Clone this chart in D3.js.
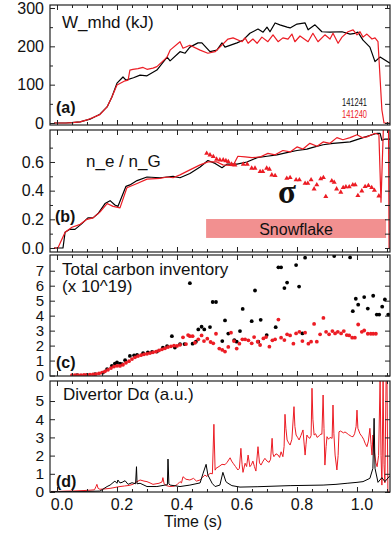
<!DOCTYPE html>
<html><head><meta charset="utf-8">
<script src="https://cdn.jsdelivr.net/npm/d3@7"></script>
<style>
body{margin:0;background:#fff}
svg{display:block}
text{font-family:"Liberation Sans",Arial,Helvetica,sans-serif;fill:#111}
</style>
</head><body>
<svg id="chart" width="391" height="533"></svg>
<script>
// ---- shot labels ----
const shots = ["141241", "141240"];

// ---- (a) stored energy W_mhd (kJ): [time s, value] ----
const wmhd141241 = [[-0.01,0],[0.03,0],[0.05,1],[0.077,3],[0.11,10],[0.143,23],[0.167,42],[0.183,68],[0.2,104],[0.22,120],[0.23,112],[0.255,118],[0.277,125],[0.3,123],[0.333,138],[0.367,172],[0.377,162],[0.41,186],[0.427,182],[0.443,198],[0.47,209],[0.483,209],[0.51,186],[0.533,190],[0.55,209],[0.56,198],[0.6,209],[0.62,216],[0.643,234],[0.67,245],[0.687,237],[0.7,250],[0.71,238],[0.727,261],[0.743,256],[0.767,250],[0.777,248],[0.8,258],[0.827,261],[0.837,243],[0.86,256],[0.883,238],[0.91,237],[0.95,238],[0.977,232],[0.993,234],[1.003,237],[1.02,216],[1.043,198],[1.06,160],[1.077,172],[1.11,156]];
const wmhd141240 = [[-0.01,0],[0.03,0],[0.05,1],[0.077,3],[0.1,8],[0.143,22],[0.167,42],[0.183,68],[0.2,99],[0.227,110],[0.237,112],[0.243,138],[0.253,140],[0.27,142],[0.287,145],[0.3,140],[0.32,143],[0.333,147],[0.367,172],[0.377,190],[0.41,212],[0.42,195],[0.443,203],[0.477,190],[0.503,182],[0.527,186],[0.543,198],[0.57,219],[0.587,222],[0.617,212],[0.627,222],[0.637,208],[0.653,219],[0.667,208],[0.683,224],[0.703,212],[0.72,230],[0.737,212],[0.753,222],[0.77,219],[0.783,232],[0.793,212],[0.81,227],[0.837,212],[0.853,234],[0.87,212],[0.893,230],[0.91,219],[0.92,234],[0.937,208],[0.95,224],[0.97,238],[0.987,243],[1.0,230],[1.01,238],[1.02,224],[1.033,232],[1.05,219],[1.06,222],[1.07,212],[1.083,34],[1.09,0],[1.11,0]];

// ---- (b) Greenwald fraction n_e/n_G ----
const ng141241 = [[-0.01,0],[0.02,0],[0.027,0.11],[0.043,0.13],[0.06,0.13],[0.083,0.17],[0.103,0.21],[0.12,0.21],[0.137,0.24],[0.16,0.31],[0.177,0.33],[0.193,0.30],[0.203,0.29],[0.23,0.43],[0.243,0.44],[0.267,0.47],[0.3,0.495],[0.343,0.49],[0.367,0.495],[0.387,0.5],[0.41,0.49],[0.443,0.52],[0.477,0.565],[0.503,0.61],[0.527,0.59],[0.55,0.56],[0.567,0.585],[0.6,0.585],[0.633,0.6],[0.667,0.63],[0.7,0.64],[0.733,0.65],[0.777,0.67],[0.8,0.68],[0.833,0.69],[0.85,0.7],[0.887,0.72],[0.92,0.73],[0.95,0.735],[0.977,0.74],[1.02,0.77],[1.067,0.80],[1.077,0.8],[1.083,0.75],[1.093,0.76],[1.11,0.76]];
const ng141240 = [[-0.01,0],[0.003,0],[0.027,0.11],[0.05,0.145],[0.077,0.165],[0.1,0.2],[0.12,0.21],[0.143,0.25],[0.167,0.31],[0.187,0.29],[0.21,0.28],[0.233,0.42],[0.267,0.45],[0.3,0.48],[0.343,0.485],[0.367,0.495],[0.387,0.49],[0.41,0.51],[0.443,0.545],[0.477,0.58],[0.49,0.59],[0.503,0.60],[0.533,0.60],[0.553,0.58],[0.587,0.575],[0.603,0.64],[0.627,0.635],[0.65,0.63],[0.677,0.635],[0.703,0.66],[0.727,0.65],[0.753,0.68],[0.777,0.67],[0.8,0.705],[0.82,0.69],[0.843,0.73],[0.867,0.71],[0.887,0.74],[0.91,0.73],[0.933,0.77],[0.953,0.755],[0.977,0.77],[1.0,0.79],[1.017,0.77],[1.033,0.775],[1.06,0.80],[1.073,0.79],[1.08,0.32],[1.088,0.84],[1.105,0.84],[1.107,0],[1.11,0]];
// sigma markers (141240)
const sigma141240 = [[0.499,0.66],[0.51,0.649],[0.521,0.637],[0.532,0.619],[0.543,0.614],[0.554,0.614],[0.563,0.609],[0.571,0.602],[0.582,0.584],[0.593,0.579],[0.621,0.584],[0.634,0.584],[0.649,0.556],[0.66,0.556],[0.677,0.533],[0.686,0.533],[0.699,0.556],[0.708,0.549],[0.716,0.509],[0.727,0.505],[0.766,0.486],[0.777,0.491],[0.797,0.475],[0.808,0.475],[0.827,0.451],[0.836,0.451],[0.847,0.475],[0.857,0.412],[0.866,0.44],[0.879,0.482],[0.888,0.491],[0.896,0.358],[0.916,0.468],[0.924,0.458],[0.932,0.412],[0.946,0.389],[0.954,0.421],[0.963,0.426],[0.974,0.426],[0.986,0.44],[0.994,0.44],[1.003,0.365],[1.016,0.398],[1.027,0.428],[1.038,0.435],[1.049,0.421],[1.058,0.402],[1.073,0.363]];
// snowflake period [t start, t end] and band extent in n_e/n_G units
const snowflakeSpan = [0.497, 1.097];
const snowflakeBand = [0.07, 0.202];

// ---- (c) total carbon inventory (x 10^19) ----
const carbon141241 = [[0.067,0.02],[0.1,0.05],[0.127,0.1],[0.153,0.2],[0.167,0.43],[0.183,0.65],[0.193,0.8],[0.2,0.87],[0.21,0.8],[0.217,0.76],[0.227,1.03],[0.243,1.31],[0.257,1.35],[0.267,1.38],[0.287,1.49],[0.303,1.55],[0.317,1.58],[0.333,1.6],[0.353,1.87],[0.367,1.97],[0.383,2.63],[0.393,1.87],[0.41,2.09],[0.425,2.1],[0.443,6.17],[0.452,2.13],[0.463,2.26],[0.471,3.08],[0.482,3.26],[0.491,3.08],[0.51,3.24],[0.519,4.91],[0.53,4.91],[0.551,2.3],[0.56,3.68],[0.571,2.8],[0.591,2.37],[0.599,2.26],[0.61,2.97],[0.619,4.45],[0.649,3.63],[0.66,5.68],[0.671,2.26],[0.679,3.72],[0.699,2.7],[0.729,3.23],[0.738,7.23],[0.747,7.23],[0.758,5.84],[0.767,6.21],[0.797,7.38],[0.807,5.94],[0.818,2.81],[0.827,7.87],[0.924,7.98],[0.977,7.89],[0.986,4.3],[0.996,5.13],[1.004,4.73],[1.024,5.24],[1.036,4.47],[1.054,5.33],[1.066,4.07],[1.074,4.07],[1.084,4.6],[1.093,5.08],[1.104,4.07]];
const carbon141240 = [[0.05,0.02],[0.06,0.02],[0.07,0.03],[0.08,0.03],[0.09,0.04],[0.10,0.05],[0.11,0.06],[0.12,0.08],[0.13,0.1],[0.14,0.14],[0.15,0.2],[0.16,0.28],[0.17,0.38],[0.18,0.5],[0.19,0.6],[0.20,0.65],[0.21,0.64],[0.22,0.72],[0.23,0.85],[0.24,0.96],[0.25,1.1],[0.26,1.22],[0.27,1.3],[0.28,1.36],[0.29,1.42],[0.30,1.45],[0.31,1.5],[0.32,1.55],[0.33,1.6],[0.34,1.68],[0.35,1.75],[0.36,1.82],[0.37,1.9],[0.38,1.95],[0.39,2.0],[0.40,1.98],[0.41,2.05],[0.42,2.55],[0.43,2.1],[0.437,2.7],[0.443,2.63],[0.452,2.63],[0.46,2.19],[0.471,2.42],[0.482,2.68],[0.49,2.3],[0.501,2.46],[0.512,2.24],[0.521,2.15],[0.53,2.79],[0.541,1.8],[0.551,1.71],[0.56,1.6],[0.571,1.91],[0.58,2.86],[0.59,2.3],[0.599,1.8],[0.608,2.13],[0.618,2.42],[0.627,2.42],[0.638,2.35],[0.649,2.15],[0.657,2.57],[0.669,2.26],[0.677,2.04],[0.688,2.48],[0.697,2.57],[0.708,1.93],[0.718,2.35],[0.727,2.42],[0.738,3.74],[0.747,2.53],[0.758,2.37],[0.767,2.75],[0.777,2.68],[0.788,2.13],[0.797,2.81],[0.808,2.92],[0.818,2.3],[0.827,2.86],[0.838,2.13],[0.847,2.26],[0.857,3.45],[0.866,2.26],[0.877,2.75],[0.888,3.85],[0.897,2.92],[0.907,2.75],[0.918,2.97],[0.927,2.81],[0.936,2.92],[0.947,2.81],[0.956,2.97],[0.966,2.7],[0.974,2.68],[0.984,2.53],[0.993,2.53],[1.004,3.41],[1.016,2.92],[1.024,3.01],[1.036,2.79],[1.046,2.79],[1.054,2.79],[1.063,2.79]];

// ---- (d) divertor D-alpha (a.u.) ----
const dalpha141240 = [[-0.02,0.03],[0.0,0.03],[0.03,0.05],[0.06,0.06],[0.09,0.08],[0.11,0.1],[0.125,0.12],[0.13,0.3],[0.133,0.42],[0.137,0.2],[0.143,0.15],[0.16,0.17],[0.177,0.2],[0.19,0.24],[0.21,0.3],[0.225,0.33],[0.24,0.36],[0.253,0.42],[0.265,0.55],[0.277,0.66],[0.29,0.6],[0.3,0.57],[0.31,0.5],[0.32,0.42],[0.34,0.48],[0.35,0.55],[0.353,0.79],[0.357,0.45],[0.365,0.35],[0.377,0.3],[0.39,0.32],[0.4,0.4],[0.41,0.57],[0.415,0.5],[0.42,0.84],[0.43,0.7],[0.443,0.66],[0.455,0.75],[0.465,0.6],[0.477,0.66],[0.485,0.8],[0.493,0.93],[0.5,0.85],[0.51,1.03],[0.518,1.0],[0.523,3.72],[0.527,1.2],[0.53,1.3],[0.54,1.4],[0.55,1.52],[0.56,1.5],[0.567,1.63],[0.577,1.88],[0.582,1.7],[0.587,1.58],[0.595,1.4],[0.603,1.21],[0.608,1.3],[0.613,2.4],[0.617,1.5],[0.62,1.08],[0.627,1.58],[0.632,1.4],[0.637,2.03],[0.643,1.39],[0.648,1.5],[0.653,1.7],[0.658,1.4],[0.663,1.15],[0.67,2.49],[0.675,1.6],[0.68,1.48],[0.687,1.7],[0.693,1.85],[0.7,1.7],[0.707,1.63],[0.712,1.8],[0.717,2.95],[0.72,2.1],[0.723,1.94],[0.73,2.1],[0.737,2.03],[0.742,1.9],[0.747,2.21],[0.753,1.94],[0.757,2.5],[0.76,4.27],[0.763,3.5],[0.767,2.86],[0.772,2.7],[0.777,2.58],[0.783,2.9],[0.79,4.69],[0.793,3.6],[0.797,3.13],[0.802,3.0],[0.807,2.86],[0.813,3.1],[0.82,3.41],[0.823,2.8],[0.827,2.03],[0.83,2.6],[0.833,3.13],[0.838,3.0],[0.843,2.95],[0.847,3.1],[0.85,5.7],[0.853,4.0],[0.857,3.13],[0.862,3.2],[0.867,3.0],[0.87,3.04],[0.875,3.1],[0.88,3.2],[0.883,3.17],[0.887,5.33],[0.89,3.5],[0.893,1.48],[0.897,2.5],[0.9,3.04],[0.905,2.9],[0.91,3.0],[0.917,2.95],[0.92,4.78],[0.923,3.2],[0.927,2.03],[0.933,1.21],[0.937,2.0],[0.94,3.31],[0.945,3.35],[0.95,3.3],[0.955,3.25],[0.96,3.3],[0.967,3.22],[0.972,3.15],[0.977,3.1],[0.982,3.05],[0.987,3.04],[0.992,3.2],[0.997,3.6],[1.0,4.5],[1.003,3.5],[1.01,3.2],[1.017,3.04],[1.022,2.9],[1.027,2.68],[1.033,2.49],[1.038,2.8],[1.043,3.5],[1.047,2.6],[1.05,2.03],[1.053,3.13],[1.058,2.2],[1.063,1.6],[1.067,1.39],[1.072,2.0],[1.077,6.2],[1.08,2.0],[1.083,0.38],[1.087,6.2],[1.09,1.5],[1.093,0.5],[1.097,6.2],[1.1,6.2],[1.103,0],[1.11,0]];
const dalpha141241 = [[-0.02,0.02],[0.1,0.03],[0.143,0.05],[0.167,0.3],[0.177,0.38],[0.193,0.6],[0.2,0.48],[0.203,0.66],[0.21,0.5],[0.217,0.53],[0.227,0.62],[0.237,0.42],[0.25,0.51],[0.262,0.45],[0.265,1.39],[0.267,0.45],[0.277,0.48],[0.3,0.3],[0.333,0.3],[0.36,0.38],[0.368,0.4],[0.37,1.81],[0.373,0.45],[0.377,0.38],[0.41,0.3],[0.443,0.38],[0.477,0.5],[0.487,1.03],[0.497,1.52],[0.503,0.93],[0.517,0.48],[0.527,0.3],[0.543,0.38],[0.553,1.08],[0.563,0.57],[0.57,0.48],[0.583,0.35],[0.61,0.27],[0.667,0.29],[0.777,0.35],[0.887,0.38],[0.93,0.42],[0.967,0.48],[1.0,0.53],[1.02,0.57],[1.043,0.75],[1.053,1.3],[1.057,4.05],[1.06,1.3],[1.07,0.53],[1.083,0.79],[1.093,0.57],[1.11,0.9]];

// ---- axis ticks ----
const timeMajor = [0, 0.2, 0.4, 0.6, 0.8, 1.0];
const timeMinor = [0.05,0.1,0.15,0.25,0.3,0.35,0.45,0.5,0.55,0.65,0.7,0.75,0.85,0.9,0.95,1.05,1.1];
const timeLabels = ["0.0","0.2","0.4","0.6","0.8","1.0"];
const ticksA = [0,100,200,300], minorA = [50,150,250], labelsA = ["0","100","200","300"];
const ticksB = [0,0.2,0.4,0.6], minorB = [0.1,0.3,0.5,0.7], labelsB = ["0.0","0.2","0.4","0.6"];
const ticksC = [0,1,2,3,4,5,6,7], minorC = [], labelsC = ["0","1","2","3","4","5","6","7"];
const ticksD = [0,1,2,3,4,5], minorD = [], labelsD = ["0","1","2","3","4","5"];

const RED = "#ec1c24", BLACK = "#000", PINK = "#f29090";
const L = 50, R = 390;
const svg = d3.select("#chart");
const x = d3.scaleLinear().domain([-0.0233, 1.11]).range([L, R]);

const panels = [
  {id:"a", top:5,   bottom:125, dom:[-5.2,307.8], ticks:ticksA, minor:minorA, labels:labelsA, fs:16},
  {id:"b", top:130, bottom:252, dom:[-0.028,0.823], ticks:ticksB, minor:minorB, labels:labelsB, fs:16},
  {id:"c", top:255, bottom:376, dom:[-0.03,8.05], ticks:ticksC, minor:minorC, labels:labelsC, fs:15},
  {id:"d", top:381, bottom:492, dom:[0,6.1], ticks:ticksD, minor:minorD, labels:labelsD, fs:15.5}
];
panels.forEach(p => { p.y = d3.scaleLinear().domain(p.dom).range([p.bottom, p.top]); });

const defs = svg.append("defs");
panels.forEach(p => {
  defs.append("clipPath").attr("id","clip-"+p.id)
    .append("rect").attr("x",L).attr("y",p.top).attr("width",R-L).attr("height",p.bottom-p.top);
});

function plotLine(p, data, color, w) {
  const line = d3.line().x(d => x(d[0])).y(d => p.y(d[1]));
  svg.append("path").attr("clip-path","url(#clip-"+p.id+")")
    .attr("d", line(data)).attr("fill","none").attr("stroke",color)
    .attr("stroke-width", w || 1.2).attr("stroke-linejoin","round");
}
function plotDots(p, data, color) {
  svg.append("g").attr("clip-path","url(#clip-"+p.id+")")
    .selectAll("circle").data(data).join("circle")
    .attr("cx", d => x(d[0])).attr("cy", d => p.y(d[1])).attr("r", 1.9).attr("fill", color);
}

const [pa, pb, pc, pd] = panels;

// (a)
plotLine(pa, wmhd141241, BLACK);
plotLine(pa, wmhd141240, RED);
// (b)
svg.append("rect").attr("clip-path","url(#clip-b)")
  .attr("x", x(snowflakeSpan[0])).attr("width", x(snowflakeSpan[1]) - x(snowflakeSpan[0]))
  .attr("y", pb.y(snowflakeBand[1])).attr("height", pb.y(snowflakeBand[0]) - pb.y(snowflakeBand[1]))
  .attr("fill", PINK);
svg.append("text").attr("x", (x(snowflakeSpan[0]) + x(snowflakeSpan[1]))/2)
  .attr("y", pb.y(snowflakeBand[0]) - 3).attr("text-anchor","middle")
  .style("font-size","16px").text("Snowflake");
plotLine(pb, ng141241, BLACK);
plotLine(pb, ng141240, RED);
svg.append("g").attr("clip-path","url(#clip-b)").selectAll("path").data(sigma141240).join("path")
  .attr("d", d3.symbol(d3.symbolTriangle, 11))
  .attr("transform", d => `translate(${x(d[0])},${pb.y(d[1])})`)
  .attr("fill", RED);
// (c)
plotDots(pc, carbon141241, BLACK);
plotDots(pc, carbon141240, RED);
// (d)
plotLine(pd, dalpha141240, RED, 1);
plotLine(pd, dalpha141241, BLACK, 1);

// frames and axes
panels.forEach((p, i) => {
  const g = svg.append("g");
  const left = d3.axisLeft(p.y).tickValues(p.ticks).tickSize(-5).tickPadding(6)
    .tickFormat((d, k) => p.labels[k]);
  const gl = g.append("g").attr("transform",`translate(${L},0)`).call(left);
  gl.selectAll("text").style("font-size", p.fs + "px").attr("fill","#111");
  g.append("g").attr("transform",`translate(${L},0)`)
    .call(d3.axisLeft(p.y).tickValues(p.minor).tickSize(-3).tickFormat(""));
  g.append("g").attr("transform",`translate(${R},0)`)
    .call(d3.axisRight(p.y).tickValues(p.ticks.concat(p.minor)).tickSize(-5).tickFormat(""));
  g.append("g").attr("transform",`translate(0,${p.top})`)
    .call(d3.axisTop(x).tickValues(timeMajor).tickSize(-5).tickFormat(""));
  g.append("g").attr("transform",`translate(0,${p.top})`)
    .call(d3.axisTop(x).tickValues(timeMinor).tickSize(-3).tickFormat(""));
  const bottom = d3.axisBottom(x).tickValues(timeMajor).tickSize(-5).tickPadding(7)
    .tickFormat(i === 3 ? ((d, k) => timeLabels[k]) : "");
  const gb = g.append("g").attr("transform",`translate(0,${p.bottom})`).call(bottom);
  gb.selectAll("text").style("font-size","16px").attr("fill","#111").attr("dx", 4.5);
  g.append("g").attr("transform",`translate(0,${p.bottom})`)
    .call(d3.axisBottom(x).tickValues(timeMinor).tickSize(-3).tickFormat(""));
  g.selectAll(".domain").remove();
  g.selectAll("line").attr("stroke","#222").attr("stroke-width",1);
  g.append("rect").attr("x",L).attr("y",p.top).attr("width",R-L).attr("height",p.bottom-p.top)
    .attr("fill","none").attr("stroke","#222").attr("stroke-width",1.2);
});

// titles and panel letters
function label(t, px, py, size, weight) {
  return svg.append("text").attr("x",px).attr("y",py).style("font-size",size+"px")
    .style("font-weight",weight||"normal").text(t);
}
label("W_mhd (kJ)", 62, 28, 17);
label("(a)", 56, 113, 16, "bold");
label("n_e / n_G", 86, 167, 17);
label("(b)", 55, 222, 16, "bold");
label("Total carbon inventory", 62, 275, 17);
label("(x 10^19)", 62, 292, 17);
label("(c)", 56, 368, 16, "bold");
label("Divertor D\u03b1 (a.u.)", 63, 400, 17);
label("(d)", 56, 487, 16, "bold");
svg.append("text").attr("x",287).attr("y",203).attr("text-anchor","middle")
  .style("font-family","'Liberation Serif','Times New Roman',serif").style("font-size","33px")
  .style("font-weight","bold").text("\u03c3");
svg.append("text").attr("x",193).attr("y",527).attr("text-anchor","middle").style("font-size","16px").text("Time (s)");

// shot legend
svg.append("text").attr("x",342).attr("y",106).style("font-size","10.5px").attr("textLength",25)
  .attr("lengthAdjust","spacingAndGlyphs").attr("fill","#222").text(shots[0]);
svg.append("text").attr("x",342).attr("y",118).style("font-size","10.5px").attr("textLength",25)
  .attr("lengthAdjust","spacingAndGlyphs").style("fill",RED).text(shots[1]);
</script>
</body></html>
